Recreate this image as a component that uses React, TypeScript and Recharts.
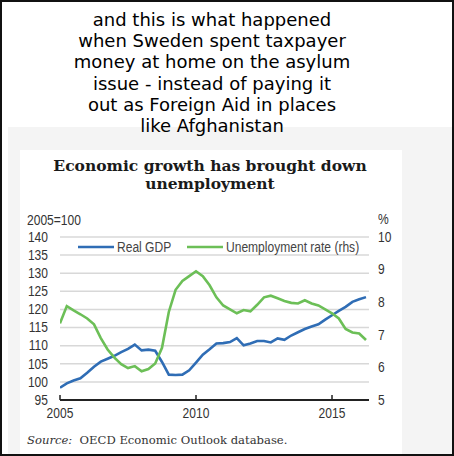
import * as React from "react";
import { LineChart, Line, XAxis, YAxis, CartesianGrid } from "recharts";

const BLUE = "#2f6db5";
const GREEN = "#6cbf57";
const AX_FONT = "'Liberation Sans', Arial, sans-serif";
const SQUEEZE = 0.86; // the original uses a narrow sans

// quarterly, 2005Q1 .. 2016Q2
const QUARTERS = [
  "2005Q1", "2005Q2", "2005Q3", "2005Q4", "2006Q1", "2006Q2", "2006Q3", "2006Q4",
  "2007Q1", "2007Q2", "2007Q3", "2007Q4", "2008Q1", "2008Q2", "2008Q3", "2008Q4",
  "2009Q1", "2009Q2", "2009Q3", "2009Q4", "2010Q1", "2010Q2", "2010Q3", "2010Q4",
  "2011Q1", "2011Q2", "2011Q3", "2011Q4", "2012Q1", "2012Q2", "2012Q3", "2012Q4",
  "2013Q1", "2013Q2", "2013Q3", "2013Q4", "2014Q1", "2014Q2", "2014Q3", "2014Q4",
  "2015Q1", "2015Q2", "2015Q3", "2015Q4", "2016Q1", "2016Q2",
];

// Real GDP, 2005=100 (lhs)
const GDP = [
  98.4, 99.6, 100.4, 101.0, 102.5, 104.2, 105.6, 106.4,
  107.2, 108.2, 109.1, 110.3, 108.7, 108.9, 108.6, 105.5,
  102.0, 101.9, 102.0, 103.2, 105.3, 107.5, 109.0, 110.6,
  110.7, 111.0, 112.1, 110.1, 110.6, 111.3, 111.3, 110.9,
  112.0, 111.6, 112.8, 113.7, 114.6, 115.3, 115.9, 117.2,
  118.4, 119.6, 120.7, 122.1, 122.8, 123.4,
];

// Unemployment rate, % (rhs)
const UNEMP = [
  7.35, 7.88, 7.75, 7.63, 7.5, 7.32, 6.9, 6.55,
  6.3, 6.1, 5.98, 6.04, 5.88, 5.95, 6.12, 6.6,
  7.7, 8.38, 8.65, 8.8, 8.95, 8.8, 8.52, 8.15,
  7.9, 7.78, 7.66, 7.76, 7.72, 7.92, 8.15, 8.2,
  8.12, 8.04, 7.98, 7.96, 8.06, 7.96, 7.9, 7.78,
  7.66, 7.5, 7.18, 7.07, 7.04, 6.84,
];

const YEAR_TICKS = [2005, 2010, 2015];
const LEFT_TICKS = [95, 100, 105, 110, 115, 120, 125, 130, 135, 140];
const RIGHT_TICKS = [5, 6, 7, 8, 9, 10];

const CAPTION = [
  "and this is what happened",
  "when Sweden spent taxpayer",
  "money at home on the asylum",
  "issue - instead of paying it",
  "out as Foreign Aid in places",
  "like Afghanistan",
];

function quarterToYear(q: string) {
  const [y, n] = q.split("Q");
  return Number(y) + (Number(n) - 1) / 4;
}

const data = QUARTERS.map((q, i) => ({ t: quarterToYear(q), gdp: GDP[i], unemp: UNEMP[i] }));

function NarrowText({ x, y, anchor, children }: any) {
  return (
    <text
      transform={`translate(${x},${y}) scale(${SQUEEZE},1)`}
      textAnchor={anchor}
      dominantBaseline="central"
      fontSize={14}
      fill="#333"
      fontFamily={AX_FONT}
    >
      {children}
    </text>
  );
}

function YearTick({ x, y, payload }: any) {
  return (
    <g>
      <line x1={x} x2={x} y1={y} y2={y - 5} stroke="#222" strokeWidth={1.5} />
      <NarrowText x={x} y={y + 13} anchor="middle">{payload.value}</NarrowText>
    </g>
  );
}

function LeftTick({ x, y, payload }: any) {
  return <NarrowText x={x} y={y} anchor="end">{payload.value}</NarrowText>;
}

function RightTick({ x, y, payload }: any) {
  return <NarrowText x={x} y={y} anchor="start">{payload.value}</NarrowText>;
}

// page coords minus the 2px border
const at = (x: number, y: number) => ({ position: "absolute" as const, left: x - 2, top: y - 2 });

const narrowSpan = {
  display: "inline-block",
  fontFamily: AX_FONT,
  fontSize: 14,
  lineHeight: "16px",
  color: "#444",
  whiteSpace: "nowrap" as const,
  transform: `scaleX(${SQUEEZE})`,
  transformOrigin: "left center",
};

function LegendItem({ x, color, label }: { x: number; color: string; label: string }) {
  return (
    <div style={{ ...at(x, 239), display: "flex", alignItems: "center", height: 16 }}>
      <svg width={36} height={16}>
        <line x1={0} x2={36} y1={8} y2={8} stroke={color} strokeWidth={2.6} />
      </svg>
      <span style={{ ...narrowSpan, marginLeft: 3 }}>{label}</span>
    </div>
  );
}

export default function App() {
  return (
    <div
      style={{
        position: "absolute", left: 0, top: 0, width: 454, height: 456,
        boxSizing: "border-box", border: "2px solid #111", background: "#fff", overflow: "hidden",
      }}
    >
      <div style={{ ...at(8, 127), width: 444, height: 330, background: "#f4f4f4" }} />
      <div style={{ ...at(20, 150), width: 382, height: 310, background: "#fff" }} />

      <div
        style={{
          ...at(0, 9), width: 424, textAlign: "center", fontFamily: "'DejaVu Sans', Verdana, sans-serif",
          fontSize: 18, lineHeight: "21.2px", color: "#000",
        }}
      >
        {CAPTION.map((l) => <div key={l}>{l}</div>)}
      </div>

      <div
        style={{
          ...at(20, 157), width: 380, textAlign: "center", fontFamily: "'DejaVu Serif', serif",
          fontWeight: 700, fontSize: 15.5, lineHeight: "18px", color: "#1a1a1a",
        }}
      >
        Economic growth has brought down
        <br />
        unemployment
      </div>

      <div style={{ ...at(27, 211) }}><span style={{ ...narrowSpan, color: "#333" }}>2005=100</span></div>
      <div style={{ ...at(378, 210) }}><span style={{ ...narrowSpan, color: "#333" }}>%</span></div>

      <div style={{ ...at(0, 200) }}>
        <LineChart width={454} height={230} data={data} margin={{ top: 37, right: 45, bottom: 0, left: 20 }}>
          <CartesianGrid yAxisId="left" vertical={false} stroke="#d8d8d8" strokeWidth={1.5} />
          <XAxis
            dataKey="t"
            type="number"
            domain={[2005, 2016.36]}
            ticks={YEAR_TICKS}
            interval={0}
            allowDataOverflow
            height={30}
            tickSize={0}
            tickMargin={0}
            axisLine={{ stroke: "#222", strokeWidth: 2 }}
            tick={<YearTick />}
          />
          <YAxis
            yAxisId="left"
            domain={[95, 140]}
            ticks={LEFT_TICKS}
            interval={0}
            width={40}
            tickSize={0}
            tickMargin={12}
            axisLine={false}
            tickLine={false}
            tick={<LeftTick />}
          />
          <YAxis
            yAxisId="right"
            orientation="right"
            domain={[5, 10]}
            ticks={RIGHT_TICKS}
            interval={0}
            width={40}
            tickSize={0}
            tickMargin={9}
            axisLine={false}
            tickLine={false}
            tick={<RightTick />}
          />
          <Line yAxisId="left" type="linear" dataKey="gdp" stroke={BLUE} strokeWidth={2.6} dot={false} isAnimationActive={false} />
          <Line yAxisId="right" type="linear" dataKey="unemp" stroke={GREEN} strokeWidth={2.6} dot={false} isAnimationActive={false} />
        </LineChart>
      </div>

      <LegendItem x={78} color={BLUE} label="Real GDP" />
      <LegendItem x={187} color={GREEN} label="Unemployment rate (rhs)" />

      <div style={{ ...at(27, 433), fontFamily: "'DejaVu Serif', serif", fontSize: 11.6, lineHeight: "14px", color: "#333" }}>
        <i>Source:</i>&nbsp; OECD Economic Outlook database.
      </div>
    </div>
  );
}
